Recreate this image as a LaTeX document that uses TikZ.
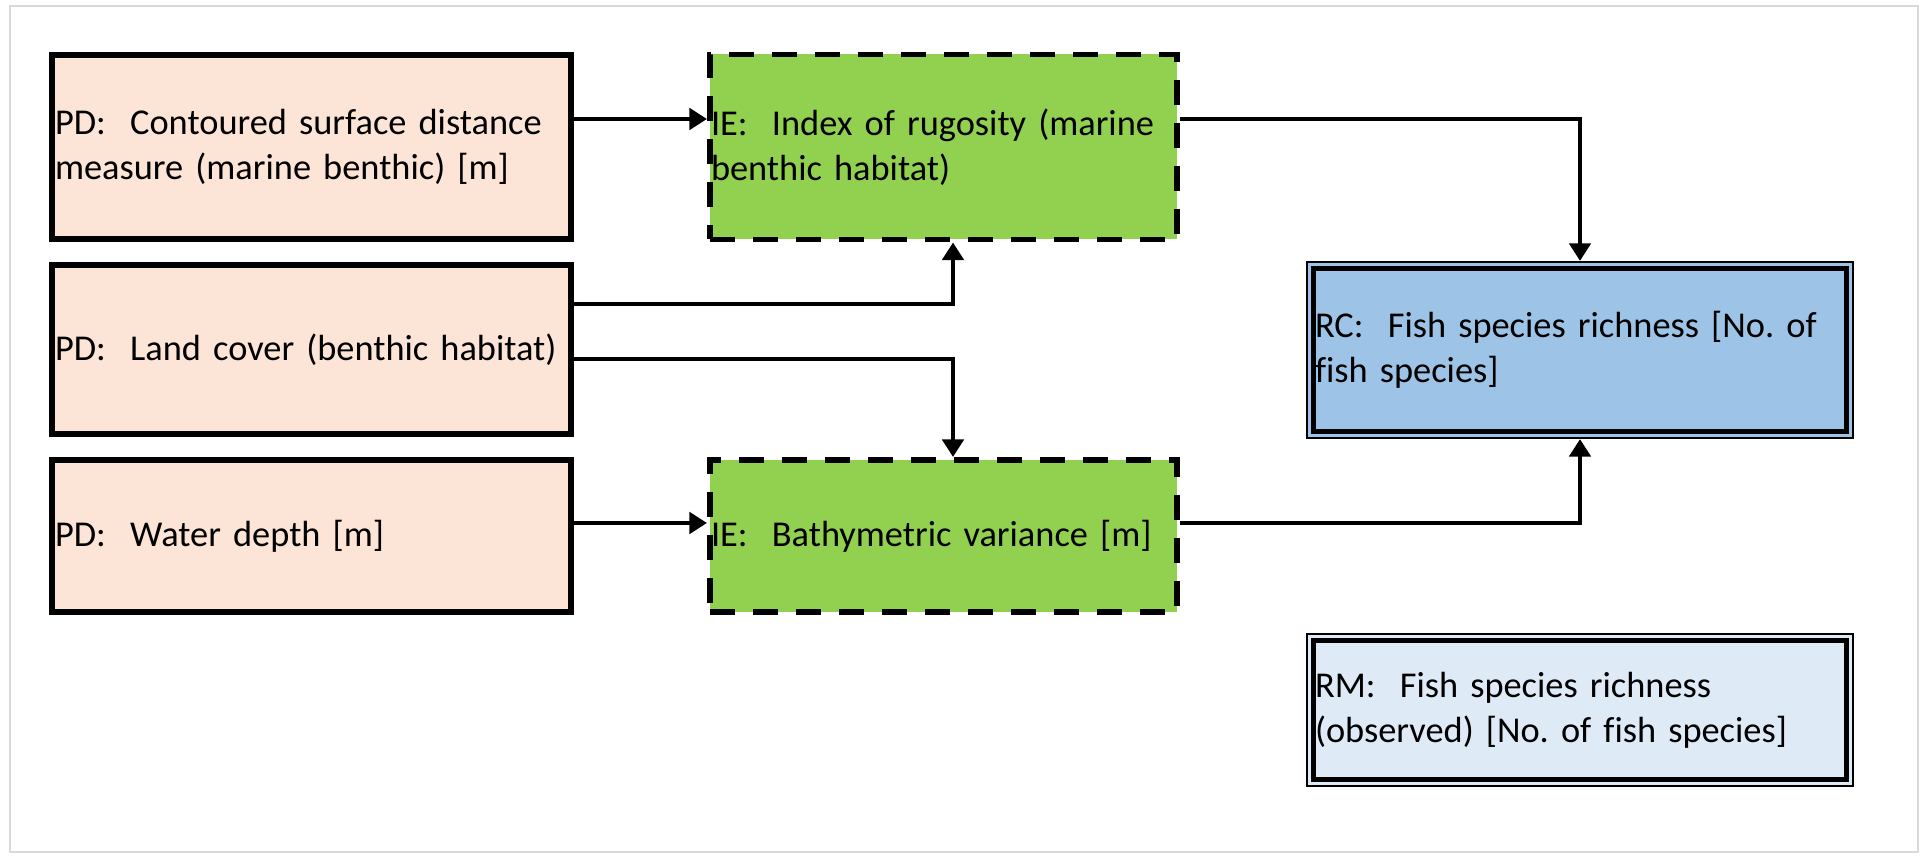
\documentclass[tikz,border=0pt]{standalone}
\usepackage{fontspec}
\setmainfont{Carlito}[Ligatures=NoCommon]
\usetikzlibrary{arrows.meta}
\frenchspacing

\definecolor{pdfill}{HTML}{FCE4D6}
\definecolor{iefill}{HTML}{92D050}
\definecolor{rcfill}{HTML}{9DC3E6}
\definecolor{rmfill}{HTML}{DEEBF7}
\definecolor{framegray}{HTML}{D9D9D9}

\begin{document}
\begin{tikzpicture}[
        >={Triangle[length=5pt,width=6pt]},
        every node/.style={font=\fontsize{10.35}{12.8}\selectfont, align=left},
        pdbox/.style={draw, line width=1.7pt, fill=pdfill, inner xsep=0.03cm,
            minimum width=5.19cm, text width=5.13cm},
        iebox/.style={draw, line width=1.7pt, fill=iefill, inner xsep=0.01cm,
            dash pattern=on 0.25cm off 0.18cm,
            minimum width=4.67cm, text width=4.65cm},
        rbox/.style={draw, line width=0.6pt, inner xsep=0.08cm,
            minimum width=5.46cm, text width=5.30cm,
            path picture={\draw[line width=1.3pt]
                ([shift={(0.065,-0.065)}]path picture bounding box.north west) rectangle
                ([shift={(-0.065,0.065)}]path picture bounding box.south east);}},
        link/.style={->, line width=1.3pt}
    ]
        \useasboundingbox (0,0) rectangle (19.28,-8.58);
        \draw[framegray, line width=0.6pt] (0.10,-0.06) rectangle (19.18,-8.52);

        \node[pdbox, minimum height=1.84cm] (pd1) at (3.115,-1.47) {PD:~~Contoured surface distance\\measure (marine benthic) [m]};
        \node[pdbox, minimum height=1.69cm] (pd2) at (3.115,-3.495) {PD:~~Land cover (benthic habitat)};
        \node[pdbox, minimum height=1.52cm] (pd3) at (3.115,-5.36) {PD:~~Water depth [m]};

        \node[iebox, minimum height=1.85cm] (ie1) at (9.435,-1.47) {IE:~~Index of rugosity (marine\\benthic habitat)};
        \node[iebox, minimum height=1.52cm] (ie2) at (9.435,-5.36) {IE:~~Bathymetric variance [m]};

        \node[rbox, fill=rcfill, minimum height=1.76cm] (rc) at (15.80,-3.50) {RC:~~Fish species richness [No. of\\fish species]};
        \node[rbox, fill=rmfill, minimum height=1.52cm] (rm) at (15.80,-7.10) {RM:~~Fish species richness\\(observed) [No. of fish species]};

        \draw[link] ([yshift=2.8mm]pd1.east) -- ([yshift=2.8mm]ie1.west);
        \draw[link] ([yshift=4.55mm]pd2.east) -| ([xshift=0.95mm]ie1.south);
        \draw[link] ([yshift=-0.95mm]pd2.east) -| ([xshift=0.95mm]ie2.north);
        \draw[link] ([yshift=1.3mm]pd3.east) -- ([yshift=1.3mm]ie2.west);
        \draw[link] ([yshift=2.8mm]ie1.east) -| (rc.north);
        \draw[link] ([yshift=1.3mm]ie2.east) -| (rc.south);
    \end{tikzpicture}
\end{document}
